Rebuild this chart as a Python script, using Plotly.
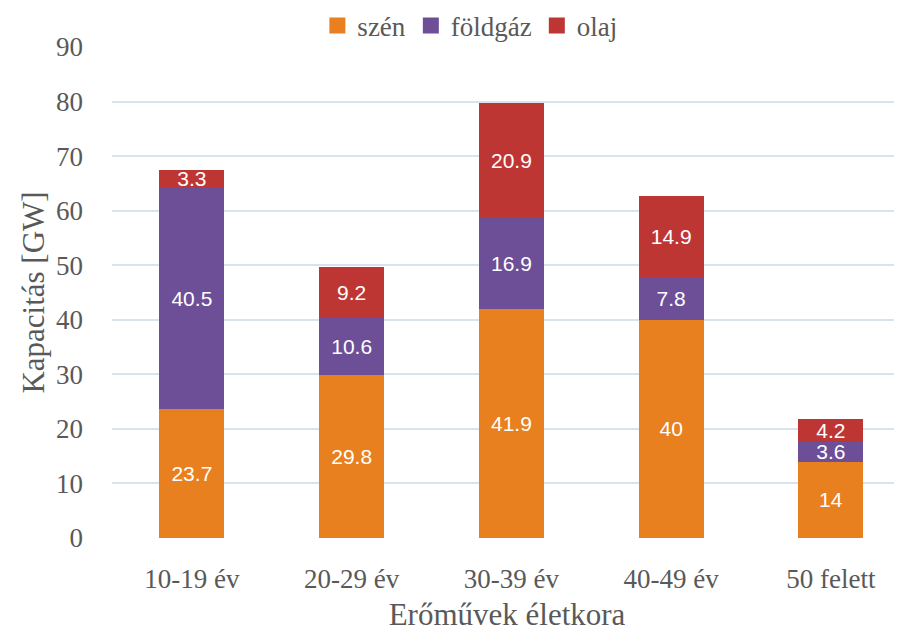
import plotly.graph_objects as go

categories = ["10-19 év", "20-29 év", "30-39 év", "40-49 év", "50 felett"]
szen = [23.7, 29.8, 41.9, 40, 14]
foldgaz = [40.5, 10.6, 16.9, 7.8, 3.6]
olaj = [3.3, 9.2, 20.9, 14.9, 4.2]

series = [
    ("szén", szen, "#E8801F"),
    ("földgáz", foldgaz, "#6D4F98"),
    ("olaj", olaj, "#BE3633"),
]

serif = "Palatino Linotype, Book Antiqua, Palatino, Liberation Serif, serif"
grey = "#595959"
fig = go.Figure()
for name, vals, col in series:
    fig.add_trace(go.Bar(
        x=categories, y=vals, name=name, legendgroup=name, showlegend=False,
        marker=dict(color=col, line=dict(width=0)),
        text=[str(v) for v in vals],
        textposition="inside", insidetextanchor="middle",
        constraintext="none",
        textfont=dict(family="Liberation Sans, Arial, sans-serif", size=21, color="white"),
        width=0.407,
    ))
# legend proxies (larger square swatches)
for name, vals, col in series:
    fig.add_trace(go.Scatter(
        x=[None], y=[None], mode="markers", name=name, legendgroup=name,
        marker=dict(symbol="square", size=16, color=col),
    ))

fig.update_layout(
    barmode="stack",
    width=894, height=624,
    margin=dict(l=104, r=0, t=39, b=94, autoexpand=False),
    plot_bgcolor="white", paper_bgcolor="white",
    font=dict(family=serif, color=grey, size=27),
    legend=dict(orientation="h", x=0.453, xanchor="center", y=1.0428, yanchor="middle",
                font=dict(size=27, color=grey), traceorder="normal",
                itemwidth=30, tracegroupgap=0),
    xaxis=dict(range=[-0.5, 4.445], showgrid=False, showline=False, ticks="",
               automargin=False, ticklabelstandoff=22,
               tickfont=dict(size=27, color=grey),
               title=dict(text="Erőművek életkora", font=dict(size=31, color=grey), standoff=16)),
    yaxis=dict(range=[0, 90], dtick=10, showgrid=True, gridcolor="#D9E3F0", gridwidth=1.5,
               zeroline=False, showline=False, ticks="", ticklabelstandoff=28,
               automargin=False,
               tickfont=dict(size=27, color=grey),
               title=dict(text="Kapacitás [GW]", font=dict(size=31, color=grey), standoff=2)),
)

fig.write_html("out.html")
